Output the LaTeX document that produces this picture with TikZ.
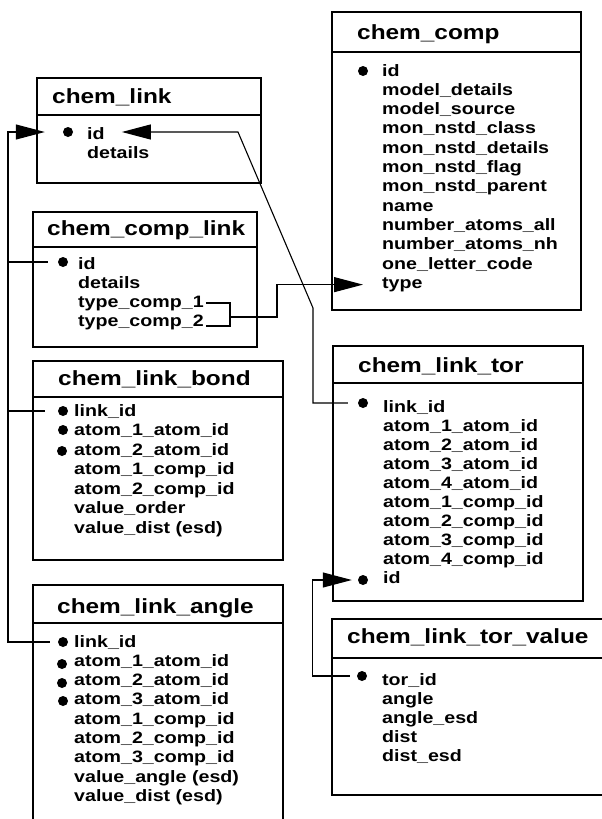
\documentclass[tikz,border=0pt]{standalone}
\usepackage{fontspec}
\newfontfamily\erfont[FakeStretch=1.19]{Liberation Sans}
\usetikzlibrary{arrows.meta}
\begin{document}
\begin{tikzpicture}[x=1pt,y=-1pt,
            tbl/.style={line width=2.6pt},
            ttl/.style={anchor=base west,inner sep=0pt,font=\erfont\bfseries\fontsize{20.5}{24}\selectfont},
            fld/.style={anchor=base west,inner sep=0pt,font=\erfont\bfseries\fontsize{16.5}{19}\selectfont},
            key/.style={circle,fill,inner sep=0pt,minimum size=10pt},
            wire/.style={line width=1.1pt},
            lnk/.style={wire,-{Triangle[length=29pt,width=15pt]}}]
            \useasboundingbox (0,0) rectangle (602,819);
            % <<< chem_comp
            \draw[tbl] (332,12) rectangle (581,310) (332,52)--(581,52);
            \path
            (357,39) node[ttl] (tcc) {chem\_comp}
            (382,76) node[fld] (cc1) {id}
            ++(0,19.3) node[fld] {model\_details}
            ++(0,19.3) node[fld] {model\_source}
            ++(0,19.3) node[fld] {mon\_nstd\_class}
            ++(0,19.3) node[fld] {mon\_nstd\_details}
            ++(0,19.3) node[fld] {mon\_nstd\_flag}
            ++(0,19.3) node[fld] {mon\_nstd\_parent}
            ++(0,19.3) node[fld] {name}
            ++(0,19.3) node[fld] {number\_atoms\_all}
            ++(0,19.3) node[fld] {number\_atoms\_nh}
            ++(0,19.3) node[fld] {one\_letter\_code}
            ++(0,19.3) node[fld] (ctype) {type};
            \node[key] (kcc) at (363,71) {};
            % <<< chem_link
            \draw[tbl] (37,78) rectangle (261,183) (37,115)--(261,115);
            \path
            (52,103) node[ttl] (tl) {chem\_link}
            (87,139) node[fld] (lid) {id}
            ++(0,19) node[fld] {details};
            \node[key] (lk) at (68,132) {};
            % <<< chem_comp_link
            \draw[tbl] (33,212) rectangle (257,347) (33,247)--(257,247);
            \path
            (47,235) node[ttl] (tcl) {chem\_comp\_link}
            (78,269) node[fld] {id}
            ++(0,19) node[fld] {details}
            ++(0,19) node[fld] (ct1) {type\_comp\_1}
            ++(0,19) node[fld] (ct2) {type\_comp\_2};
            \node[key] (ck1) at (63,262) {};
            % <<< chem_link_bond
            \draw[tbl] (33,361) rectangle (283,560) (33,397)--(283,397);
            \path
            (58,385) node[ttl] (tb) {chem\_link\_bond}
            (74,416) node[fld] {link\_id}
            ++(0,19.5) node[fld] {atom\_1\_atom\_id}
            ++(0,19.5) node[fld] {atom\_2\_atom\_id}
            ++(0,19.5) node[fld] {atom\_1\_comp\_id}
            ++(0,19.5) node[fld] {atom\_2\_comp\_id}
            ++(0,19.5) node[fld] {value\_order}
            ++(0,19.5) node[fld] {value\_dist (esd)};
            \node[key] (bk1) at (63,411) {};
            \node[key] (bk2) at (63,430) {};
            \node[key] (bk3) at (62,451) {};
            % <<< chem_link_angle
            \draw[tbl] (33,830) |- (283,585) -- (283,830) (33,623)--(283,623);
            \path
            (57,613) node[ttl] (ta) {chem\_link\_angle}
            (74,647) node[fld] {link\_id}
            ++(0,19.3) node[fld] {atom\_1\_atom\_id}
            ++(0,19.3) node[fld] {atom\_2\_atom\_id}
            ++(0,19.3) node[fld] {atom\_3\_atom\_id}
            ++(0,19.3) node[fld] {atom\_1\_comp\_id}
            ++(0,19.3) node[fld] {atom\_2\_comp\_id}
            ++(0,19.3) node[fld] {atom\_3\_comp\_id}
            ++(0,19.3) node[fld] {value\_angle (esd)}
            ++(0,19.3) node[fld] {value\_dist (esd)};
            \node[key] (ak1) at (63,642) {};
            \node[key] (ak2) at (62,664) {};
            \node[key] (ak3) at (62,683) {};
            \node[key] (ak4) at (63,701) {};
            % <<< chem_link_tor
            \draw[tbl] (333,346) rectangle (583,601) (333,383)--(583,383);
            \path
            (358,372) node[ttl] (tt) {chem\_link\_tor}
            (383,412) node[fld] {link\_id}
            ++(0,19) node[fld] {atom\_1\_atom\_id}
            ++(0,19) node[fld] {atom\_2\_atom\_id}
            ++(0,19) node[fld] {atom\_3\_atom\_id}
            ++(0,19) node[fld] {atom\_4\_atom\_id}
            ++(0,19) node[fld] {atom\_1\_comp\_id}
            ++(0,19) node[fld] {atom\_2\_comp\_id}
            ++(0,19) node[fld] {atom\_3\_comp\_id}
            ++(0,19) node[fld] {atom\_4\_comp\_id}
            ++(0,19) node[fld] {id};
            \node[key] (tk1) at (363,403) {};
            \node[key] (tk2) at (363,580) {};
            % <<< chem_link_tor_value
            \draw[tbl] (612,619) -| (332,795) -- (612,795) (332,658)--(612,658);
            \path
            (347,643) node[ttl] (tv) {chem\_link\_tor\_value}
            (382,685) node[fld] {tor\_id}
            ++(0,19) node[fld] {angle}
            ++(0,19) node[fld] {angle\_esd}
            ++(0,19) node[fld] {dist}
            ++(0,19) node[fld] {dist\_esd};
            \node[key] (vk1) at (362,676) {};
            % <<< links
            \coordinate (trunk) at (8,132);
            \coordinate (bend1) at (313,308);
            \coordinate (bend2) at (238,132);
            \coordinate (brk) at (230,317);
            \coordinate (jog) at (277,317);
            \draw[lnk] ([xshift=-8pt]ak1.west) -| (trunk) -- ([xshift=-18pt]lk.west);
            \draw[wire] (trunk |- ck1) -- ([xshift=-10pt]ck1.west);
            \draw[wire] (trunk |- bk1) -- ([xshift=-13pt]bk1.west);
            \draw[lnk] ([xshift=-10pt]tk1.west) -| (bend1) -- (bend2) -- ([xshift=17pt]lid.east |- bend2);
            \draw[wire] ([xshift=2pt]ct1.east) -| (brk) |- ([xshift=2pt]ct2.base east);
            \draw[lnk] (brk) -- (jog) |- ([xshift=-19pt]ctype.west);
            \draw[lnk] ([xshift=-7pt]vk1.west) -| ([xshift=-45pt]tk2.west) -- ([xshift=-6pt]tk2.west);
        \end{tikzpicture}
\end{document}
